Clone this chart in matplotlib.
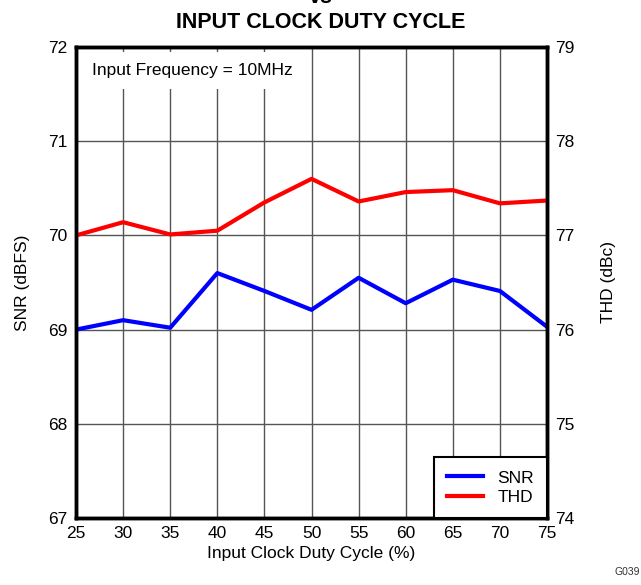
import matplotlib
matplotlib.use('Agg')
import matplotlib.pyplot as plt

plt.rcParams['font.family'] = ['Liberation Sans', 'DejaVu Sans']

# Duty cycle sweep at 10MHz input
duty_cycle = [25, 30, 35, 40, 45, 50, 55, 60, 65, 70, 75]
snr = [69.0, 69.1, 69.02, 69.6, 69.41, 69.21, 69.55, 69.28, 69.53, 69.41, 69.03]
thd = [77.0, 77.14, 77.01, 77.05, 77.35, 77.6, 77.36, 77.46, 77.48, 77.34, 77.37]

x_ticks = [25, 30, 35, 40, 45, 50, 55, 60, 65, 70, 75]
snr_ticks = [67, 68, 69, 70, 71, 72]
thd_ticks = [74, 75, 76, 77, 78, 79]

fig = plt.figure(figsize=(6.41, 5.85), dpi=100)
ax = fig.add_axes([0.1186, 0.1145, 0.7348, 0.8052])
ax2 = ax.twinx()

ax.plot(duty_cycle, snr, color='#0000ff', lw=3, label='SNR')
ax2.plot(duty_cycle, thd, color='#ff0000', lw=3, label='THD')

ax.set_xlim(25, 75)
ax.set_ylim(67, 72)
ax2.set_ylim(74, 79)
ax.set_xticks(x_ticks)
ax.set_yticks(snr_ticks)
ax2.set_yticks(thd_ticks)

ax.grid(True, color='#555555', lw=1)
for a in (ax, ax2):
    a.tick_params(length=0, labelsize=12.5, pad=6)
    for s in a.spines.values():
        s.set_linewidth(2.5)

ax.set_xlabel('Input Clock Duty Cycle (%)', fontsize=12.5, labelpad=3)
ax.set_ylabel('SNR (dBFS)', fontsize=12.5, labelpad=13)
ax2.set_ylabel('THD (dBc)', fontsize=12.5, labelpad=19)

ax.text(0.034, 0.95, 'Input Frequency = 10MHz', transform=ax.transAxes,
        fontsize=12.5, ha='left', va='center', zorder=5,
        bbox=dict(facecolor='white', edgecolor='none', pad=8))

h1, l1 = ax.get_legend_handles_labels()
h2, l2 = ax2.get_legend_handles_labels()
leg = ax2.legend(h1 + h2, l1 + l2, loc='lower right', fontsize=12.5,
                 fancybox=False, framealpha=1, edgecolor='black',
                 borderaxespad=0, handlelength=2.1, handletextpad=0.8,
                 borderpad=0.75, labelspacing=0.25)
leg.get_frame().set_linewidth(1.5)

# title block; the upper lines run past the top edge of the figure
fig.text(0.5, 0.987, 'SNR AND THD\nvs', ha='center', va='bottom',
         fontsize=15.5, fontweight='bold', linespacing=1.0)
fig.text(0.5, 0.962, 'INPUT CLOCK DUTY CYCLE', ha='center', va='center',
         fontsize=15.5, fontweight='bold')

fig.text(0.958, 0.013, 'G039', fontsize=7.5, color='#333333', ha='left', va='bottom')

fig.savefig('out.png', dpi=100)
